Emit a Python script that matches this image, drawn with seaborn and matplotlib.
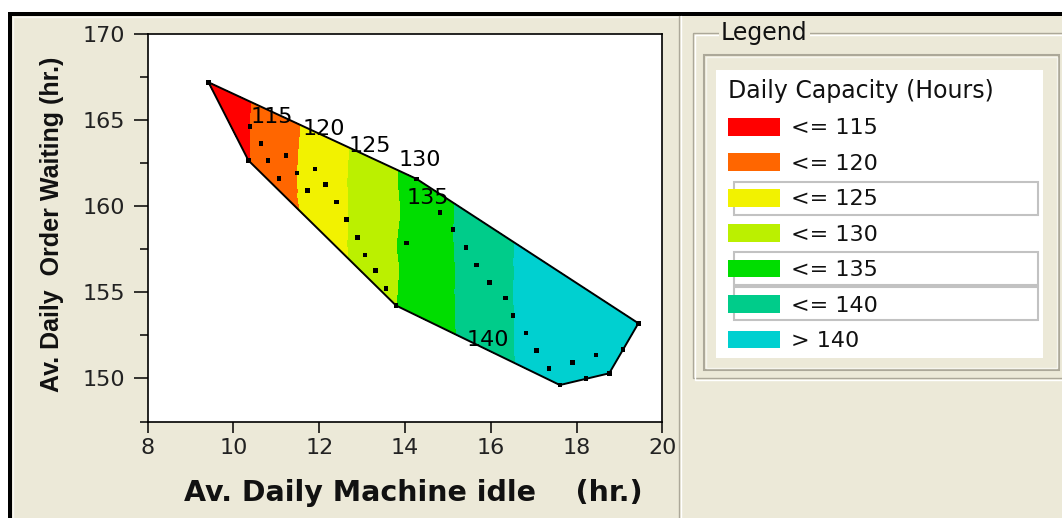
import numpy as np
import matplotlib
matplotlib.use("Agg")
import matplotlib.pyplot as plt
import matplotlib.tri as mtri
from matplotlib.patches import Rectangle, Patch
from matplotlib.collections import LineCollection
import seaborn as sns

# ---------------- data ----------------
machine_idle = [9.42, 10.35, 10.39, 10.64, 10.81, 11.23, 11.06, 11.48, 11.90, 11.73,
                12.15, 12.40, 12.64, 12.89, 13.07, 13.31, 13.56, 13.79, 14.04, 14.27,
                14.82, 15.12, 15.42, 15.67, 15.97, 16.34, 16.52, 16.82, 17.07, 17.36,
                17.91, 18.45, 17.61, 18.22, 18.76, 19.08, 19.44]
order_waiting = [167.17, 162.64, 164.60, 163.63, 162.63, 162.94, 161.58, 161.91, 162.14, 160.91,
                 161.25, 160.22, 159.23, 158.19, 157.16, 156.25, 155.23, 154.23, 157.86, 161.57,
                 159.64, 158.64, 157.61, 156.59, 155.58, 154.66, 153.64, 152.63, 151.61, 150.59,
                 150.94, 151.36, 149.62, 150.01, 150.30, 151.69, 153.20]
daily_capacity = [110.6, 114.8, 115.0, 116.2, 116.9, 118.8, 118.1, 119.9, 121.7, 121.0,
                  122.8, 123.8, 124.8, 125.9, 126.7, 127.8, 128.9, 129.9, 130.9, 131.8,
                  133.8, 135.0, 136.0, 136.9, 138.0, 139.3, 139.9, 141.0, 141.9, 142.9,
                  144.9, 146.8, 143.8, 146.0, 147.9, 149.0, 150.3]

capacity_levels = [100, 115, 120, 125, 130, 135, 140, 160]
band_colors = ["#FF0000", "#FF6600", "#F2F200", "#BBF000", "#00DD00", "#00CC8A", "#00D0D0"]
legend_labels = ["<= 115", "<= 120", "<= 125", "<= 130", "<= 135", "<= 140", "> 140"]
contour_label_text = ["115", "120", "125", "130", "135", "140"]
x_ticks = [8, 10, 12, 14, 16, 18, 20]
y_ticks = [150, 155, 160, 165, 170]
y_minor_ticks = [147.5, 152.5, 157.5, 162.5, 167.5]

# ---------------- style ----------------
sns.set_style("white")
plt.rcParams['font.family'] = ['DejaVu Sans']

W, H = 1062, 518
BEIGE = "#ECE9D8"
ETCH = "#ACA899"

fig = plt.figure(figsize=(W / 100, H / 100), dpi=100, facecolor=BEIGE)

# background / window decorations in pixel coordinates
bg = fig.add_axes([0, 0, 1, 1], zorder=0)
bg.set_xlim(0, W)
bg.set_ylim(H, 0)
bg.axis('off')
bg.add_patch(Rectangle((0, 0), W, 12, color='white', lw=0))
bg.add_patch(Rectangle((0, 0), 8, H, color='white', lw=0))
bg.add_patch(Rectangle((8, 12), W - 8, 4, color='black', lw=0))
bg.add_patch(Rectangle((8, 12), 4, H - 12, color='black', lw=0))
bg.plot([13, 13], [17, H], color='#F8F8F4', lw=1)
bg.plot([13, 679], [17, 17], color='#F8F8F4', lw=1)
# separator between chart and legend panel
bg.plot([679, 679], [16, H], color=ETCH, lw=1)
bg.plot([681, 681], [16, H], color='white', lw=1)
# "Legend" group box (etched)
bg.add_patch(Rectangle((693, 33), 420, 345, fill=False, edgecolor=ETCH, lw=1))
bg.add_patch(Rectangle((694.5, 34.5), 420, 345, fill=False, edgecolor='white', lw=1))
# inner frame
bg.add_patch(Rectangle((704, 55), 355, 315, fill=False, edgecolor=ETCH, lw=1.5))
bg.add_patch(Rectangle((706, 57), 351, 311, fill=False, edgecolor='#F6F5EE', lw=1))
# white legend area
bg.add_patch(Rectangle((716, 70), 327, 288, facecolor='white', edgecolor='none'))
# selection-like boxes around some legend rows
for top in (182, 252, 287):
    bg.add_patch(Rectangle((734, top), 304, 33, fill=False, edgecolor='#C2C2C2', lw=1.5))
bg.text(721, 33, "Legend", fontsize=17, ha='left', va='center', color='#111111',
        bbox=dict(facecolor=BEIGE, edgecolor='none', pad=1.5))

# ---------------- main chart ----------------
ax = fig.add_axes([147.6 / W, 1 - 421.6 / H, (662.4 - 147.6) / W, (421.6 - 33.5) / H], zorder=1)
ax.set_facecolor('white')

tri = mtri.Triangulation(machine_idle, order_waiting)
ax.tricontourf(tri, daily_capacity, levels=capacity_levels, colors=band_colors, zorder=1)

# convex hull outline from the triangulation's boundary edges
segs = []
for i, nb in enumerate(tri.neighbors):
    for j in range(3):
        if nb[j] == -1:
            a = tri.triangles[i, j]
            b = tri.triangles[i, (j + 1) % 3]
            segs.append([(machine_idle[a], order_waiting[a]), (machine_idle[b], order_waiting[b])])
ax.add_collection(LineCollection(segs, colors='black', linewidths=1.4, zorder=2))

sns.scatterplot(x=machine_idle, y=order_waiting, marker='s', s=11, color='black',
                edgecolor='none', linewidth=0, ax=ax, zorder=3, legend=False)

# contour value labels
label_pos = [(10.90, 165.16), (12.11, 164.46), (13.18, 163.48),
             (14.35, 162.67), (14.54, 160.46), (15.94, 152.23)]
for t, (lx, ly) in zip(contour_label_text, label_pos):
    ax.text(lx, ly, t, fontsize=16, ha='center', va='center', color='black', zorder=4)

ax.set_xlim(8, 20)
ax.set_ylim(147.5, 170)
ax.set_xticks(x_ticks)
ax.set_xticklabels([str(v) for v in x_ticks])
ax.set_yticks(y_ticks)
ax.set_yticklabels([str(v) for v in y_ticks])
ax.set_yticks(y_minor_ticks, minor=True)
ax.tick_params(axis='x', which='major', direction='out', length=8, width=1.1, color='black',
               labelsize=16, labelcolor='#222222', pad=4, bottom=True)
ax.tick_params(axis='y', which='major', direction='out', length=10, width=1.1, color='black',
               labelsize=16, labelcolor='#222222', pad=6, left=True)
ax.tick_params(axis='y', which='minor', direction='out', length=6, width=1.1, color='black', left=True)
for sp in ax.spines.values():
    sp.set_color('black')
    sp.set_linewidth(1.2)
    sp.set_visible(True)

ax.set_xlabel("Av. Daily Machine idle    (hr.)", fontsize=20.5, fontweight='bold', color='#111111')
ax.xaxis.set_label_coords(0.5155, -0.184)
ax.xaxis.label.set_va('center')
ax.set_ylabel("Av. Daily  Order Waiting (hr.)", fontsize=18, fontweight='bold', color='#111111',
              family=['Liberation Sans', 'DejaVu Sans'])
ax.yaxis.set_label_coords(-0.1857, 0.509)
ax.yaxis.label.set_va('center')

# ---------------- legend ----------------
handles = [Patch(facecolor=c, edgecolor='none') for c in band_colors]
leg = fig.legend(handles, legend_labels, loc='upper left',
                 bbox_to_anchor=(728 / W, 1 - 79 / H), frameon=False,
                 title="Daily Capacity (Hours)", alignment='left',
                 fontsize=16, title_fontsize=17,
                 handlelength=2.35, handleheight=0.85, labelspacing=0.67,
                 handletextpad=0.5, borderpad=0, borderaxespad=0)
for t in leg.get_texts():
    t.set_color('#111111')
leg.get_title().set_color('#111111')

fig.savefig("out.png", dpi=100, facecolor=BEIGE)
